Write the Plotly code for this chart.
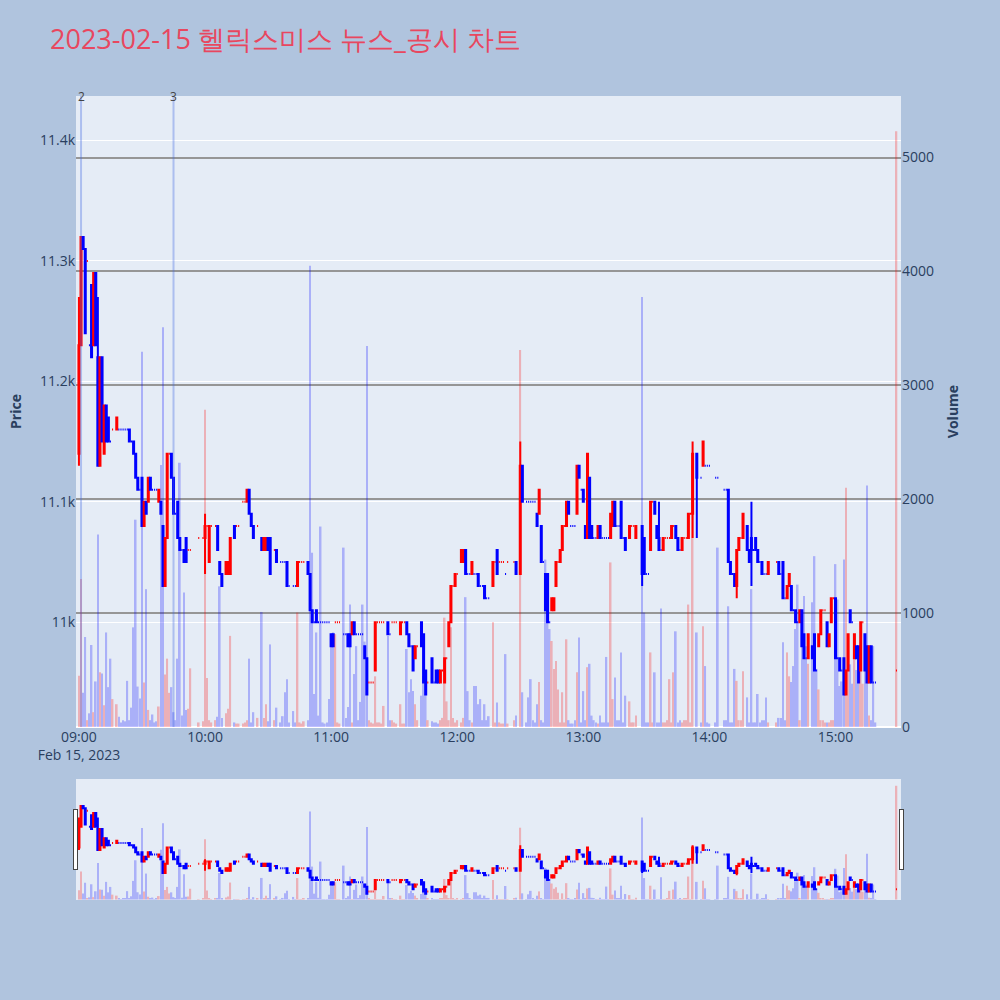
import plotly.graph_objects as go
from plotly.subplots import make_subplots
from datetime import datetime, timedelta

# minute offsets from 09:00
minutes = [
    0, 1, 2, 3, 4, 5, 6, 7, 8, 9,
    10, 11, 12, 13, 14, 15, 16, 18, 19, 20,
    21, 22, 23, 24, 25, 26, 27, 28, 29, 30,
    31, 32, 33, 34, 35, 36, 37, 38, 39, 40,
    41, 42, 43, 44, 45, 46, 47, 48, 49, 50,
    51, 52, 53, 57, 59, 60, 61, 62, 63, 65,
    66, 67, 68, 70, 71, 72, 74, 75, 76, 78,
    79, 80, 81, 82, 83, 85, 87, 88, 89, 90,
    91, 93, 94, 96, 97, 98, 99, 100, 102, 103,
    104, 105, 106, 107, 109, 110, 111, 112, 113, 114,
    115, 116, 117, 118, 119, 120, 121, 122, 123, 124,
    126, 127, 128, 129, 130, 131, 132, 133, 134, 135,
    136, 137, 138, 139, 140, 141, 142, 143, 144, 145,
    147, 148, 149, 150, 151, 153, 154, 155, 156, 157,
    158, 159, 160, 161, 163, 164, 165, 166, 168, 169,
    170, 171, 172, 173, 174, 175, 176, 177, 178, 179,
    180, 182, 183, 184, 185, 186, 187, 188, 189, 190,
    191, 192, 193, 194, 195, 197, 198, 199, 200, 201,
    202, 203, 204, 207, 208, 210, 211, 213, 214, 215,
    216, 217, 218, 219, 220, 221, 222, 223, 224, 225,
    226, 227, 228, 229, 230, 231, 232, 233, 234, 235,
    236, 237, 238, 239, 240, 241, 242, 243, 244, 245,
    246, 247, 248, 249, 250, 251, 252, 253, 254, 255,
    256, 257, 258, 259, 260, 262, 263, 264, 265, 268,
    269, 270, 271, 272, 273, 274, 275, 276, 277, 278,
    279, 280, 281, 282, 283, 284, 285, 286, 287, 288,
    289, 290, 291, 292, 294, 296, 297, 298, 299, 300,
    303, 304, 307, 308, 309, 310, 311, 312, 313, 314,
    315, 316, 318, 319, 320, 321, 322, 323, 324, 325,
    326, 327, 328, 332, 333, 334, 335, 336, 337, 338,
    339, 340, 341, 342, 343, 344, 345, 346, 347, 349,
    350, 351, 352, 353, 354, 355, 356, 357, 358, 359,
    360, 361, 362, 363, 364, 365, 366, 367, 368, 369,
    370, 371, 372, 373, 374, 375, 376, 377, 378, 379,
    389,
]

opens = [
    11140, 11230, 11320, 11310, 11300, 11230, 11280, 11230, 11290, 11220,
    11130, 11220, 11140, 11180, 11170, 11150, 11160, 11160, 11160, 11160,
    11160, 11160, 11160, 11160, 11150, 11150, 11140, 11120, 11110, 11120,
    11080, 11100, 11100, 11120, 11110, 11110, 11110, 11100, 11100, 11080,
    11030, 11070, 11140, 11140, 11120, 11090, 11100, 11070, 11060, 11060,
    11070, 11060, 11060, 11070, 11070, 11070, 11080, 11050, 11080, 11080,
    11080, 11050, 11040, 11040, 11040, 11040, 11080, 11080, 11080, 11100,
    11100, 11100, 11110, 11090, 11080, 11080, 11070, 11060, 11060, 11070,
    11070, 11060, 11060, 11050, 11050, 11050, 11050, 11030, 11030, 11030,
    11030, 11050, 11050, 11050, 11050, 11040, 11010, 11000, 11010, 11000,
    11000, 11000, 11000, 11000, 11000, 10990, 10990, 11000, 11000, 11000,
    10990, 10990, 10990, 10990, 10990, 11000, 10990, 10990, 10990, 10990,
    10980, 10970, 10950, 10950, 10950, 10960, 11000, 11000, 11000, 11000,
    11000, 10990, 11000, 11000, 11000, 10990, 11000, 11000, 11000, 10990,
    10980, 10980, 10970, 10980, 11000, 10990, 10960, 10950, 10970, 10950,
    10960, 10960, 10950, 10960, 10950, 10970, 10980, 11000, 11030, 11030,
    11040, 11050, 11050, 11060, 11040, 11040, 11040, 11040, 11040, 11040,
    11030, 11030, 11030, 11020, 11020, 11030, 11050, 11060, 11050, 11050,
    11050, 11040, 11050, 11050, 11050, 11040, 11130, 11100, 11100, 11100,
    11100, 11100, 11090, 11090, 11080, 11050, 11040, 11040, 11000, 11010,
    11010, 11030, 11050, 11050, 11060, 11080, 11080, 11100, 11080, 11080,
    11080, 11090, 11130, 11110, 11110, 11080, 11070, 11120, 11080, 11070,
    11070, 11070, 11080, 11070, 11070, 11070, 11070, 11070, 11080, 11100,
    11080, 11080, 11100, 11070, 11070, 11070, 11080, 11080, 11070, 11080,
    11070, 11040, 11040, 11060, 11100, 11100, 11080, 11070, 11060, 11060,
    11070, 11070, 11070, 11070, 11080, 11080, 11070, 11060, 11060, 11070,
    11070, 11070, 11090, 11090, 11140, 11120, 11130, 11130, 11130, 11130,
    11120, 11120, 11110, 11110, 11110, 11050, 11040, 11040, 11030, 11060,
    11070, 11070, 11080, 11060, 11070, 11060, 11070, 11060, 11050, 11050,
    11040, 11040, 11040, 11050, 11050, 11040, 11050, 11020, 11020, 11030,
    11030, 11010, 11010, 11000, 11000, 11010, 10990, 10970, 10970, 10980,
    10990, 10960, 10980, 10990, 11010, 11010, 11000, 10980, 11000, 11020,
    11020, 10970, 10970, 10960, 10970, 10940, 10960, 11010, 11000, 10970,
    10980, 10980, 10960, 11000, 10990, 10980, 10950, 10980, 10950, 10950,
    10960,
]

closes = [
    11230, 11320, 11310, 11240, 11300, 11230, 11220, 11290, 11230, 11130,
    11220, 11150, 11180, 11150, 11150, 11150, 11160, 11170, 11160, 11160,
    11160, 11160, 11160, 11150, 11150, 11140, 11120, 11110, 11110, 11080,
    11100, 11090, 11120, 11110, 11110, 11110, 11110, 11110, 11090, 11030,
    11070, 11140, 11140, 11120, 11090, 11090, 11070, 11060, 11060, 11050,
    11050, 11060, 11060, 11070, 11070, 11080, 11080, 11080, 11080, 11080,
    11060, 11040, 11030, 11050, 11050, 11070, 11070, 11080, 11080, 11100,
    11100, 11110, 11090, 11080, 11070, 11080, 11060, 11070, 11070, 11060,
    11040, 11060, 11050, 11050, 11050, 11050, 11030, 11030, 11030, 11030,
    11050, 11050, 11050, 11050, 11040, 11010, 11000, 11000, 11000, 11000,
    11000, 11000, 11000, 11000, 11000, 10980, 10980, 11000, 11000, 11000,
    10990, 10990, 10980, 10980, 11000, 10990, 10990, 10990, 10990, 10990,
    10970, 10940, 10950, 10950, 10950, 11000, 11000, 11000, 11000, 11000,
    10990, 10990, 11000, 11000, 11000, 11000, 11000, 11000, 10990, 10980,
    10980, 10960, 10980, 10980, 10980, 10950, 10940, 10950, 10950, 10950,
    10950, 10950, 10960, 10960, 10970, 10970, 11000, 11030, 11030, 11040,
    11040, 11060, 11060, 11040, 11040, 11040, 11050, 11040, 11040, 11030,
    11030, 11030, 11020, 11020, 11020, 11050, 11050, 11040, 11050, 11050,
    11050, 11040, 11050, 11050, 11040, 11130, 11100, 11100, 11100, 11100,
    11100, 11100, 11080, 11110, 11050, 11050, 11010, 11000, 11000, 11020,
    11020, 11050, 11050, 11060, 11080, 11080, 11100, 11090, 11080, 11080,
    11080, 11130, 11120, 11110, 11100, 11070, 11140, 11070, 11070, 11070,
    11070, 11080, 11070, 11070, 11070, 11070, 11070, 11090, 11100, 11080,
    11080, 11080, 11070, 11070, 11060, 11080, 11080, 11080, 11080, 11040,
    11040, 11040, 11040, 11100, 11100, 11090, 11070, 11060, 11060, 11070,
    11070, 11070, 11070, 11080, 11080, 11070, 11060, 11060, 11070, 11070,
    11070, 11090, 11090, 11140, 11120, 11120, 11150, 11130, 11130, 11130,
    11120, 11120, 11110, 11110, 11050, 11040, 11040, 11030, 11060, 11070,
    11070, 11090, 11060, 11050, 11060, 11060, 11060, 11050, 11050, 11040,
    11040, 11040, 11050, 11050, 11040, 11040, 11020, 11020, 11030, 11040,
    11010, 11010, 11000, 11000, 11010, 10980, 10970, 10970, 10990, 10970,
    10960, 10960, 10990, 11010, 11010, 11010, 10980, 10990, 11020, 11020,
    10970, 10970, 10960, 10960, 10940, 10960, 10990, 11000, 11000, 10990,
    10970, 10950, 11000, 11000, 10960, 10950, 10980, 10950, 10950, 10950,
    10960,
]

volumes = [
    450, 1300, 300, 790, 60, 120, 720, 130, 400, 1690,
    480, 470, 190, 830, 350, 600, 245, 200, 90, 40,
    60, 50, 405, 60, 170, 875, 1820, 355, 250, 3295,
    390, 1210, 150, 60, 110, 40, 50, 180, 2300, 3510,
    460, 600, 300, 350, 130, 60, 600, 2320, 100, 1180,
    150, 160, 515, 40, 50, 2785, 430, 60, 40, 60,
    90, 1235, 80, 120, 160, 800, 40, 30, 30, 30,
    40, 60, 600, 40, 130, 80, 1010, 80, 200, 50,
    725, 60, 170, 40, 95, 305, 420, 40, 140, 40,
    1005, 40, 30, 50, 60, 4050, 1530, 290, 830, 100,
    1760, 40, 30, 40, 245, 710, 830, 815, 40, 30,
    1575, 80, 175, 1075, 40, 465, 710, 60, 220, 1075,
    750, 3345, 60, 40, 30, 445, 40, 40, 30, 185,
    800, 60, 60, 40, 30, 200, 30, 30, 685, 305,
    420, 315, 200, 60, 275, 445, 375, 60, 50, 40,
    40, 30, 60, 80, 960, 225, 60, 875, 80, 40,
    60, 40, 80, 1140, 315, 60, 40, 360, 360, 200,
    245, 60, 200, 60, 95, 920, 40, 215, 40, 30,
    30, 640, 30, 60, 100, 3310, 305, 40, 260, 420,
    60, 40, 200, 395, 60, 40, 1470, 1005, 860, 755,
    510, 580, 330, 40, 305, 40, 770, 60, 30, 30,
    60, 480, 785, 40, 315, 60, 525, 555, 100, 60,
    40, 30, 100, 40, 40, 615, 40, 1445, 245, 435,
    60, 60, 655, 40, 275, 225, 40, 40, 100, 3775,
    1005, 40, 40, 655, 40, 480, 40, 40, 1040, 40,
    40, 60, 420, 40, 480, 840, 40, 60, 40, 60,
    60, 1075, 40, 2300, 830, 40, 885, 535, 40, 30,
    40, 1575, 60, 60, 1060, 40, 40, 510, 405, 60,
    60, 490, 260, 40, 1210, 40, 40, 290, 40, 60,
    60, 260, 40, 40, 80, 80, 745, 60, 655, 445,
    395, 535, 860, 1250, 60, 975, 1150, 710, 555, 1095,
    1500, 510, 330, 60, 60, 40, 40, 40, 60, 60,
    1430, 1120, 360, 400, 1470, 2100, 655, 550, 380, 595,
    500, 600, 620, 380, 710, 2120, 100, 60, 710, 40,
    5230,
]

# candles whose wicks reach beyond the body (minute -> price)
wick_high = {0: 11270, 9: 11270, 60: 11090, 210: 11150, 276: 11100, 292: 11150, 320: 11100}
wick_low = {0: 11130, 60: 11040, 268: 11030, 292: 11070, 294: 11070, 313: 11020, 320: 11030}

news_times = ["2023-02-15 09:01:00", "2023-02-15 09:45:00"]
news_labels = ["2", "3"]

base = datetime(2023, 2, 15, 9, 0)
times = [base + timedelta(minutes=m) for m in minutes]
highs = [wick_high.get(m, max(o, c)) for m, o, c in zip(minutes, opens, closes)]
lows = [wick_low.get(m, min(o, c)) for m, o, c in zip(minutes, opens, closes)]

# volume colour follows candle direction (same rule as plotly's candlestick)
vol_colors = []
inc = True
prev = None
for o, c in zip(opens, closes):
    if c != o:
        inc = c > o
    elif prev is not None and c != prev:
        inc = c > prev
    prev = c
    vol_colors.append("red" if inc else "blue")

fig = make_subplots(specs=[[{"secondary_y": True}]])
fig.add_trace(go.Candlestick(
    x=times, open=opens, high=highs, low=lows, close=closes,
    increasing=dict(line=dict(color="red"), fillcolor="red"),
    decreasing=dict(line=dict(color="blue"), fillcolor="blue"),
    name="Price", showlegend=False), secondary_y=False)
fig.add_trace(go.Bar(
    x=times, y=volumes, marker=dict(color=vol_colors, line=dict(width=0)),
    opacity=0.25, name="Volume", showlegend=False), secondary_y=True)

for t, lab in zip(news_times, news_labels):
    fig.add_shape(type="line", xref="x", yref="paper", x0=t, x1=t, y0=0, y1=1,
                  line=dict(color="rgba(65,105,225,0.35)", width=2))
    fig.add_annotation(x=t, y=1, xref="x", yref="paper", text=lab, showarrow=False,
                       yanchor="middle", xanchor="center", font=dict(size=12, color="#444"))

x_range = ["2023-02-15 08:58:36", "2023-02-15 15:31:10"]

fig.update_layout(
    width=1000, height=1000,
    font=dict(size=14),
    paper_bgcolor="lightsteelblue",
    plot_bgcolor="#E5ECF6",
    title=dict(text="2023-02-15 헬릭스미스 뉴스_공시 차트", x=0.05, y=0.96,
               yanchor="middle", font=dict(size=27, color="#E8475F")),
    margin=dict(l=76, r=99, t=96, b=100),
    showlegend=False,
    bargap=0.2,
)
fig.update_xaxes(range=x_range, type="date", domain=[0, 1],
                 rangeslider=dict(visible=True, range=x_range, thickness=0.15))
fig.update_yaxes(title_text="<b>Price</b>", title_font=dict(size=14),
                 range=[10913, 11437], secondary_y=False)
fig.update_yaxes(title_text="<b>Volume</b>", title_font=dict(size=14),
                 range=[0, 5540], showgrid=True,
                 gridcolor="rgb(150,150,150)", gridwidth=1.5, secondary_y=True)

fig.write_html("out.html", config={"displayModeBar": False},
               post_script="document.body.style.margin='0';")
